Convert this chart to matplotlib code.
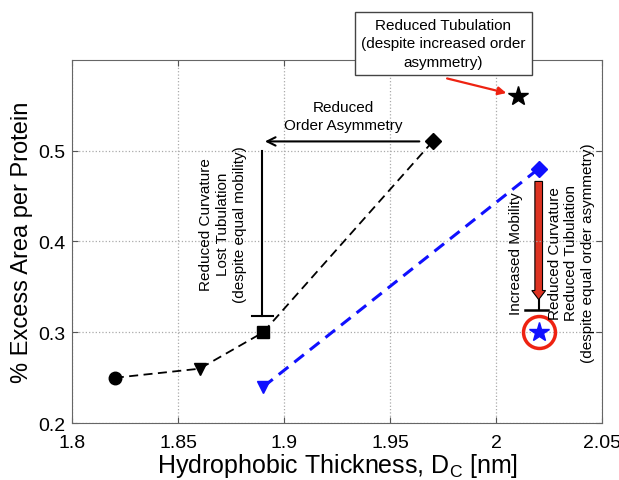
import numpy as np
import matplotlib.pyplot as plt
from matplotlib.patches import FancyArrow

plt.rcParams['font.family'] = ['Liberation Sans', 'DejaVu Sans']

# data
black_x = [1.82, 1.86, 1.89, 1.97]
black_y = [0.25, 0.26, 0.30, 0.51]
black_markers = ['o', 'v', 's', 'D']
blue_x = [1.89, 2.02]
blue_y = [0.24, 0.48]
blue_markers = ['v', 'D']
black_star = (2.01, 0.56)
blue_star = (2.02, 0.30)

xticks = [1.8, 1.85, 1.9, 1.95, 2.0, 2.05]
xticklabels = ['1.8', '1.85', '1.9', '1.95', '2', '2.05']
yticks = [0.2, 0.3, 0.4, 0.5]
yticklabels = ['0.2', '0.3', '0.4', '0.5']

fig = plt.figure(figsize=(6.19, 4.81), dpi=100)
ax = fig.add_axes([0.117, 0.118, 0.856, 0.756])

ax.plot(black_x, black_y, '--', color='black', lw=1.3, dashes=(5, 3))
for x, y, m in zip(black_x, black_y, black_markers):
    ax.plot(x, y, marker=m, color='black', ms=9 if m != 'D' else 8, ls='none')
ax.plot(blue_x, blue_y, '--', color='#1010ff', lw=2.2, dashes=(4, 2.5))
for x, y, m in zip(blue_x, blue_y, blue_markers):
    ax.plot(x, y, marker=m, color='#1010ff', ms=9 if m != 'D' else 8, ls='none')

ax.plot(*black_star, marker='*', color='black', ms=15, ls='none')
ax.plot(*blue_star, marker='*', color='#1010ff', ms=15, ls='none')
ax.plot(*blue_star, marker='o', mfc='none', mec='#ee2211', mew=2.5, ms=23, ls='none')

# reduced order asymmetry arrow
ax.annotate('', xy=(1.8895, 0.51), xytext=(1.965, 0.51),
            arrowprops=dict(arrowstyle='->', color='black', lw=1.5, mutation_scale=15))
ax.text(1.928, 0.538, 'Reduced\nOrder Asymmetry', ha='center', va='center', fontsize=11,
        linespacing=1.4)

# T line at 1.89
ax.plot([1.8896, 1.8896], [0.50, 0.318], color='black', lw=1.5)
ax.plot([1.8845, 1.8945], [0.318, 0.318], color='black', lw=1.5)
ax.text(1.871, 0.42, 'Reduced Curvature\nLost Tubulation\n(despite equal mobility)',
        rotation=90, ha='center', va='center', fontsize=11, linespacing=1.25)

# red fat arrow
arr = FancyArrow(2.02, 0.466, 0, -0.13, width=0.0036, head_width=0.0065,
                 head_length=0.010, length_includes_head=True,
                 fc='#dd3322', ec='black', lw=0.8)
ax.add_patch(arr)
ax.plot([2.02, 2.02], [0.336, 0.325], color='black', lw=1.5)
ax.plot([2.0137, 2.0245], [0.325, 0.325], color='black', lw=1.8)
ax.text(2.0094, 0.388, 'Increased Mobility', rotation=90, ha='center', va='center',
        fontsize=11)
ax.text(2.0354, 0.388, 'Reduced Curvature\nReduced Tubulation\n(despite equal order asymmetry)',
        rotation=90, ha='center', va='center', fontsize=11, linespacing=1.25)

ax.set_xlim(1.8, 2.05)
ax.set_ylim(0.2, 0.6)
ax.set_xticks(xticks)
ax.set_xticklabels(xticklabels)
ax.set_yticks(yticks)
ax.set_yticklabels(yticklabels)
ax.tick_params(labelsize=14, direction='in', length=4, color='#555555',
               top=True, right=True)
ax.tick_params(axis='x', pad=8)
ax.tick_params(axis='y', pad=5)
ax.grid(True, ls=':', color='#aaaaaa', lw=0.9)
for s in ax.spines.values():
    s.set_color('#666666')
ax.set_xlabel(r'Hydrophobic Thickness, $\mathregular{D_C}$ [nm]', fontsize=18, labelpad=0)
ax.set_ylabel('% Excess Area per Protein', fontsize=17, labelpad=4)

# top boxed note
fig.text(0.716, 0.908, 'Reduced Tubulation\n(despite increased order\nasymmetry)',
         ha='center', va='center', fontsize=11, linespacing=1.4,
         bbox=dict(boxstyle='square,pad=0.4', fc='white', ec='#444444', lw=1))
ax.annotate('', xy=(2.006, 0.5625), xytext=(1.9755, 0.58),
            xycoords='data', textcoords='data', annotation_clip=False,
            arrowprops=dict(arrowstyle='-|>', color='#ee2211', lw=1.6, mutation_scale=12))

fig.savefig('out.png', dpi=100)
